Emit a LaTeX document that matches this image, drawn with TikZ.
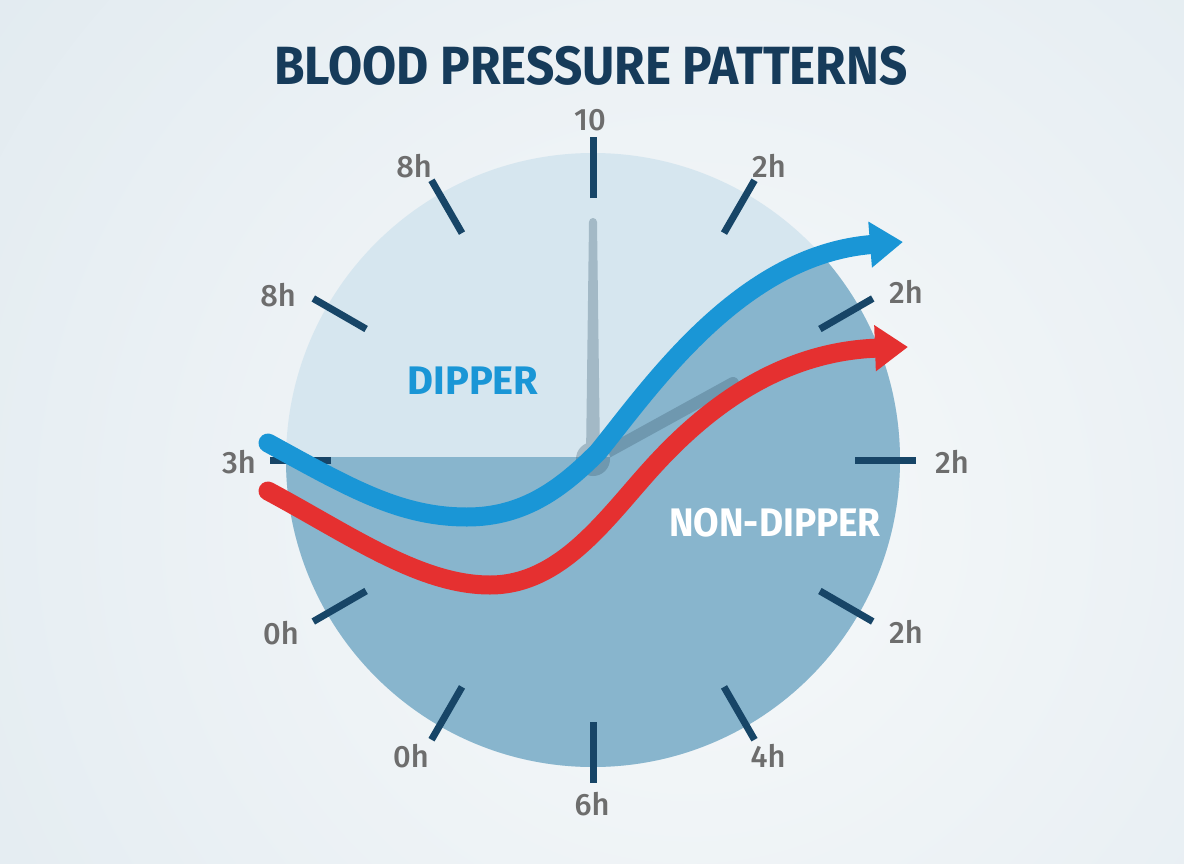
\documentclass[tikz,border=0pt]{standalone}
\usepackage{fontspec}
\setmainfont{Fira Sans}
\newfontfamily\medfont{Fira Sans Medium}
\usetikzlibrary{arrows.meta,calc}
\definecolor{bgin}{HTML}{F7F9FA}
\definecolor{bgout}{HTML}{D2E0E9}
\definecolor{lightface}{HTML}{D6E6EF}
\definecolor{darkface}{HTML}{88B5CD}
\definecolor{tickcol}{HTML}{174567}
\definecolor{lblcol}{HTML}{6D6D6D}
\definecolor{titlecol}{HTML}{163B5A}
\definecolor{dipblue}{HTML}{1A96D6}
\definecolor{dipred}{HTML}{E53030}
\definecolor{handlight}{HTML}{A3B9C6}
\definecolor{handdark}{HTML}{6F98AF}
\tikzset{
  tickline/.style={draw=tickcol, line width=7bp},
  hourlbl/.style={text=lblcol, font=\medfont\fontsize{31}{31}\selectfont, inner sep=0pt},
  curveline/.style={line width=19bp, line cap=round},
  bluearrow/.style={curveline, draw=dipblue, -{Triangle[length=33bp,width=44bp]}},
  redarrow/.style={curveline, draw=dipred, -{Triangle[length=33bp,width=44bp]}},
  bigword/.style={font=\bfseries\fontsize{40}{40}\selectfont, inner sep=0pt}
}
\begin{document}
\begin{tikzpicture}[x=1bp,y=-1bp]
\useasboundingbox (0,0) rectangle (1184,864);
\begin{scope}
  \clip (0,0) rectangle (1184,864);
  \shade[inner color=bgin, outer color=bgout] (690,520) circle (1560);
\end{scope}
\coordinate (c) at (593,460);
% clock face
\fill[lightface] (c) circle (307);
\begin{scope}
  \clip (c) circle (307);
  \fill[darkface] (250,457) rectangle (950,800);
  \fill[darkface] (598,452) .. controls (650,388) and (740,255) .. (903,242) -- (950,242) -- (950,470) -- (598,470) -- cycle;
\end{scope}
% ticks
\foreach \a in {0,30,...,330}
  \draw[tickline] ($(c)+(\a:262)$) -- ($(c)+(\a:323)$);
% hands
\fill[handlight] (586,457) -- (589,222) arc(180:360:4) -- (600,457) -- cycle;
\draw[handdark, line width=12bp, line cap=round] (c) -- (733,383);
\begin{scope}
  \clip (560,420) rectangle (630,457);
  \fill[handlight] (593,459) circle (17);
\end{scope}
\begin{scope}
  \clip (560,457) rectangle (630,500);
  \fill[handdark] (593,459) circle (17);
\end{scope}
% curves
\coordinate (bs) at (268,443);
\coordinate (bm) at (467,517);
\coordinate (bi) at (598,452);
\coordinate (be) at (903,242);
\draw[bluearrow] (bs) .. controls (350,488) and (400,517) .. (bm)
   .. controls (525,517) and (563,487) .. (bi)
   .. controls (650,388) and (740,255) .. (be);
\coordinate (rs) at (268,491);
\coordinate (rm) at (490,585);
\coordinate (ri) at (650,470);
\coordinate (re) at (908,347);
\draw[redarrow] (rs) .. controls (350,535) and (420,585) .. (rm)
   .. controls (560,585) and (605,520) .. (ri)
   .. controls (695,420) and (770,352) .. (re);
% labels
\node[hourlbl] (l12) at (590,120) {10};
\node[hourlbl] (l1) at (769,166) {2h};
\node[hourlbl] (l2) at (906,292) {2h};
\node[hourlbl] (l3) at (952,462) {2h};
\node[hourlbl] (l4) at (906,632) {2h};
\node[hourlbl] (l5) at (768,756) {4h};
\node[hourlbl] (l6) at (592,804) {6h};
\node[hourlbl] (l7) at (411,756) {0h};
\node[hourlbl] (l8) at (281,633) {0h};
\node[hourlbl] (l9) at (239,462) {3h};
\node[hourlbl] (l10) at (278,295) {8h};
\node[hourlbl] (l11) at (414,166) {8h};
% words
\node[bigword, text=dipblue] (dip) at (473,381) {DIPPER};
\node[bigword, text=white] (nondip) at (775,523) {\scalebox{0.93}[1]{NON-DIPPER}};
\node[text=titlecol, font=\bfseries\fontsize{54}{54}\selectfont, inner sep=0pt] (title) at (591,66) {\scalebox{0.92}[1]{BLOOD PRESSURE PATTERNS}};
\end{tikzpicture}
\end{document}
